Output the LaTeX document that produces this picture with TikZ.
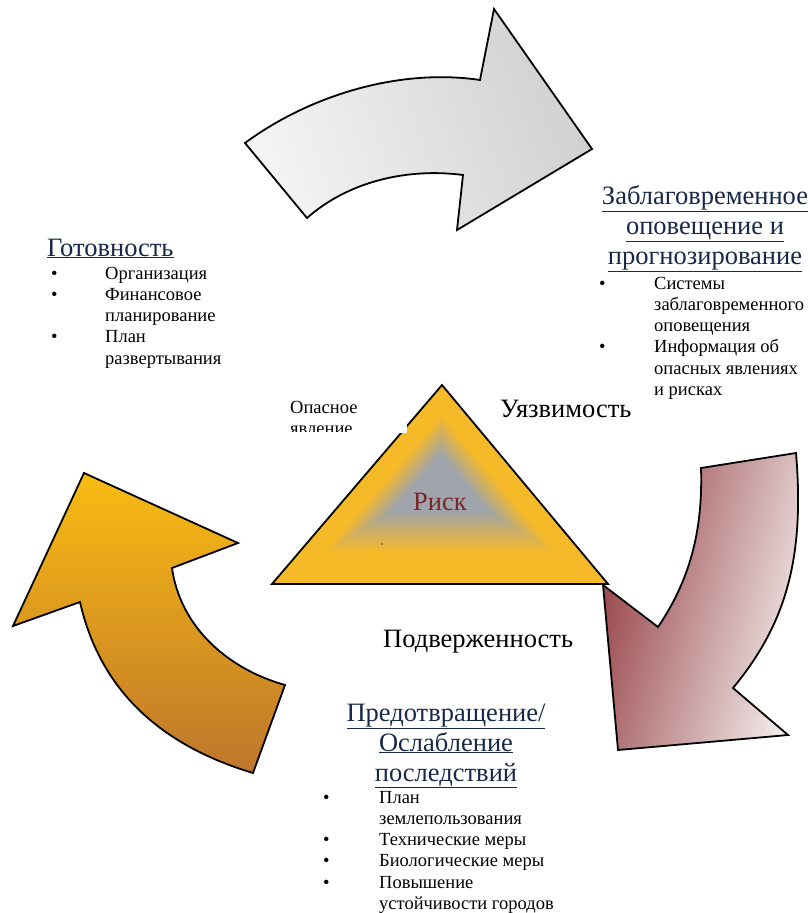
\documentclass[tikz,border=0pt]{standalone}
\usepackage{fontspec}
\setmainfont{Liberation Serif}
\usetikzlibrary{calc}

\definecolor{headblue}{RGB}{24,40,72}
\definecolor{riskred}{RGB}{120,40,40}
\definecolor{riskorange}{RGB}{246,186,40}
\definecolor{riskgray}{RGB}{160,164,172}
\definecolor{graylight}{RGB}{244,244,244}
\definecolor{graydark}{RGB}{208,208,208}
\definecolor{maroondark}{RGB}{150,66,70}
\definecolor{maroonlight}{RGB}{244,238,238}
\definecolor{orangetop}{RGB}{249,188,18}
\definecolor{orangebot}{RGB}{190,118,44}

\begin{document}
\begin{tikzpicture}[x=1pt,y=-1pt,
  outline/.style={draw=black,line width=1.8pt},
  headtxt/.style={font=\fontsize{26.5}{30}\selectfont,text=headblue,inner sep=0pt},
  bigtxt/.style={font=\fontsize{26.5}{30}\selectfont,inner sep=0pt},
  listtxt/.style={font=\fontsize{18.5}{21.3}\selectfont,text=black,inner sep=0pt}]
  \useasboundingbox[fill=white] (0,0) rectangle (810,913);

  % ================= верхняя серая стрелка =================
  \shade[outline,left color=graylight,right color=graydark,shading angle=110]
    (245,143) .. controls (310,95) and (400,68) .. (480,80)
    -- (494,9) -- (592,149) -- (457,230) -- (463,175)
    .. controls (410,168) and (350,180) .. (307,218) -- cycle;

  % ================= правая бордовая стрелка =================
  \shade[outline,left color=maroondark,right color=maroonlight,shading angle=75]
    (701,468) -- (796,453)
    .. controls (805,560) and (785,625) .. (733,688)
    -- (788,735) -- (618,750) -- (603,585) -- (658,627)
    .. controls (690,580) and (703,530) .. (701,468) -- cycle;

  % ================= левая оранжевая стрелка =================
  \shade[outline,top color=orangetop,bottom color=orangebot]
    (84,473) -- (238,543) -- (172,568)
    .. controls (180,625) and (225,668) .. (285,685)
    -- (253,773)
    .. controls (160,745) and (100,690) .. (80,602)
    -- (13,626) -- cycle;

  % ================= треугольник риска =================
  \coordinate (ta) at (442,385);
  \coordinate (tb) at (272,584);
  \coordinate (tc) at (608,584);
  \coordinate (rc) at (440,482);
  \foreach \i in {0,...,89} {
    \pgfmathsetmacro\s{1-\i/90}
    \pgfmathsetmacro\m{max(0,min(100,(0.7-\s)*240))}
    \fill[riskgray!\m!riskorange] ($(rc)!\s!(ta)$) -- ($(rc)!\s!(tb)$) -- ($(rc)!\s!(tc)$) -- cycle;
  }
  \draw[outline] (ta) -- (tb) -- (tc) -- cycle;
  \fill[riskred] (382,544) circle (0.9);
  \node[bigtxt,text=riskred,anchor=base] (risk) at (440,510) {Риск};

  % ================= подписи у треугольника =================
  \fill[white] (285,394) rectangle (407,433);
  \begin{scope}
    \clip (280,390) rectangle (410,431);
    \node[listtxt,anchor=base west] (hazard) at (290,413)
      {\begin{tabular}[t]{@{}l@{}}Опасное\\явление\end{tabular}};
  \end{scope}
  \node[bigtxt,anchor=base west] (vuln) at (500,417) {Уязвимость};
  \node[bigtxt,anchor=base west] (expo) at (383,647) {Подверженность};

  % ================= Готовность =================
  \node[headtxt,anchor=base west] (prep) at (47,256) {\underline{Готовность}};
  \node[listtxt,anchor=base west] (preplist) at (51,279)
    {\begin{tabular}[t]{@{}p{54pt}@{}l@{}}
      • & Организация\\
      • & Финансовое\\
        & планирование\\
      • & План\\
        & развертывания
    \end{tabular}};

  % ================= Заблаговременное оповещение =================
  \node[headtxt,anchor=base] (warn) at (705,204)
    {\begin{tabular}[t]{@{}c@{}}
      \underline{Заблаговременное}\\
      \underline{оповещение и}\\
      \underline{прогнозирование}
    \end{tabular}};
  \node[listtxt,anchor=base west] (warnlist) at (599,289)
    {\begin{tabular}[t]{@{}p{55pt}@{}l@{}}
      • & Системы\\
        & заблаговременного\\
        & оповещения\\
      • & Информация об\\
        & опасных явлениях\\
        & и рисках
    \end{tabular}};

  % ================= Предотвращение / Ослабление =================
  \node[headtxt,anchor=base] (mitig) at (446,721)
    {\begin{tabular}[t]{@{}c@{}}
      \underline{Предотвращение/}\\
      \underline{Ослабление}\\
      \underline{последствий}
    \end{tabular}};
  \node[listtxt,anchor=base west] (mitiglist) at (323,803)
    {\begin{tabular}[t]{@{}p{56pt}@{}l@{}}
      • & План\\
        & землепользования\\
      • & Технические меры\\
      • & Биологические меры\\
      • & Повышение\\
        & устойчивости городов
    \end{tabular}};

\end{tikzpicture}
\end{document}
